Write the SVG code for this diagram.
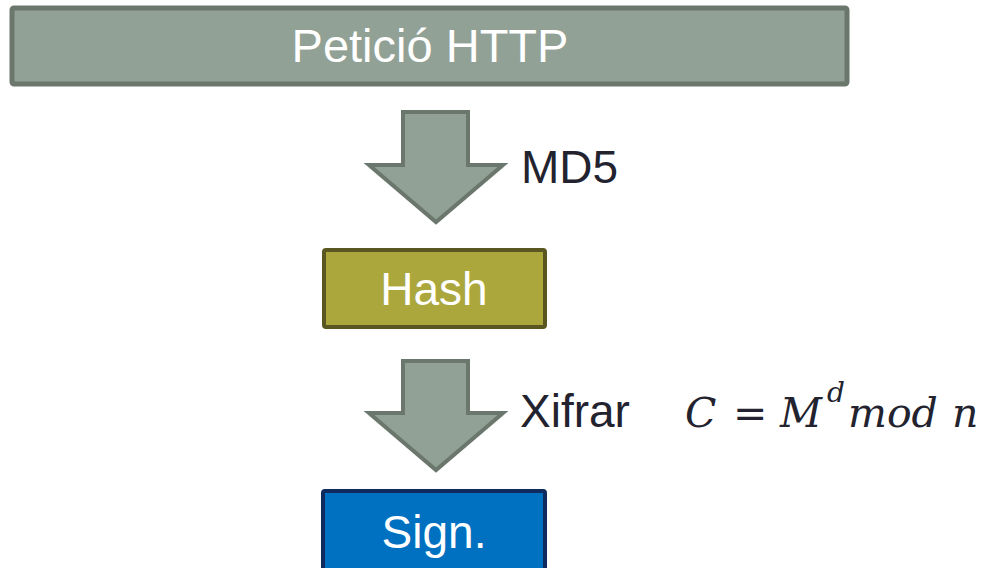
<svg xmlns="http://www.w3.org/2000/svg" width="985" height="568" viewBox="0 0 985 568">
<style>
.lbl{font-family:"Liberation Sans",Arial,sans-serif;font-size:46px;fill:#ffffff;text-anchor:middle}
.side{font-family:"Liberation Sans",Arial,sans-serif;font-size:46px;fill:#23232f}
.math{font-family:"DejaVu Serif","Liberation Serif",serif;font-size:41px;fill:#23232f;font-style:italic}
.sup{font-size:28px}
.arrow{fill:#92a195;stroke:#6b776d;stroke-width:4;stroke-linejoin:miter}
</style>
<rect width="985" height="568" fill="#ffffff"/>
<g id="peticio">
<rect x="12" y="8" width="835" height="76" rx="2" fill="#92a195" stroke="#6b776d" stroke-width="5"/>
<text class="lbl" x="430" y="62" style="font-size:47px">Petició HTTP</text>
</g>
<g id="connectors">
<polygon class="arrow" points="403,112 468,112 468,165 503,165 436,222 369,165 403,165"/>
<polygon class="arrow" points="403,361 468,361 468,413 503,413 436,470 369,413 403,413"/>
</g>
<g id="md5-label">
<text class="side" x="521" y="183">MD5</text>
</g>
<g id="hash">
<rect x="324" y="250" width="221" height="77" rx="2" fill="#aca73c" stroke="#5a5622" stroke-width="4"/>
<text class="lbl" x="434" y="305">Hash</text>
</g>
<g id="xifrar-label">
<text class="side" x="520" y="427">Xifrar</text>
<text class="math" y="427"><tspan x="685">C</tspan><tspan x="733" style="font-style:normal">=</tspan><tspan x="780">M</tspan><tspan class="sup" x="827" y="402">d</tspan><tspan x="848" y="427">mod</tspan><tspan x="952">n</tspan></text>
</g>
<g id="sign">
<rect x="323" y="491" width="222" height="80" rx="2" fill="#0070c0" stroke="#0f2a5e" stroke-width="4"/>
<text class="lbl" x="434" y="548">Sign.</text>
</g>
</svg>
